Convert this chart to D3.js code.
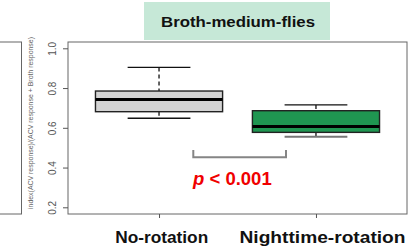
<!DOCTYPE html>
<html>
<head>
<meta charset="utf-8">
<script src="https://cdn.jsdelivr.net/npm/d3@7"></script>
<style>
  body { margin: 0; background: #fff; }
  svg { display: block; font-family: "Liberation Sans", Arial, sans-serif; }
</style>
</head>
<body>
<svg id="chart" width="414" height="247"></svg>
<script>
// data
var categories = ["No-rotation", "Nighttime-rotation"];
var whiskerLow  = [0.648, 0.555];
var q1          = [0.681, 0.577];
var medians     = [0.743, 0.606];
var q3          = [0.785, 0.686];
var whiskerHigh = [0.904, 0.715];
var boxFills    = ["#d3d3d3", "#1f9651"];
var yTicks      = [0.2, 0.4, 0.6, 0.8, 1.0];

var svg = d3.select('#chart');

// plot frame (R style, 4% padding round the data range)
var frame = { left: 68, right: 407, top: 42, bottom: 214 };

var x = d3.scaleLinear().domain([0.42, 2.58]).range([frame.left, frame.right]);
var y = d3.scaleLinear().domain([0.2, 1.0]).range([207.3, 48.3]);

// title strip
svg.append('rect')
  .attr('x', 144).attr('y', 2).attr('width', 186).attr('height', 38)
  .attr('fill', '#c6e8d7');
svg.append('text')
  .attr('x', 238).attr('y', 27)
  .attr('text-anchor', 'middle')
  .attr('font-size', 15.5).attr('font-weight', 'bold')
  .attr('textLength', 154).attr('lengthAdjust', 'spacingAndGlyphs')
  .attr('fill', '#111')
  .text('Broth-medium-flies');

// left neighbour panel (cut off)
svg.append('rect')
  .attr('x', -10).attr('y', frame.top).attr('width', 31.5).attr('height', frame.bottom - frame.top)
  .attr('fill', 'none').attr('stroke', '#666').attr('stroke-width', 1);

// frame
svg.append('rect')
  .attr('x', frame.left).attr('y', frame.top)
  .attr('width', frame.right - frame.left).attr('height', frame.bottom - frame.top)
  .attr('fill', 'none').attr('stroke', '#666').attr('stroke-width', 1);

// y axis
var yAxis = d3.axisLeft(y).tickValues(yTicks).tickSize(5).tickFormat(d3.format('.1f'));
var gy = svg.append('g').attr('transform', 'translate(' + frame.left + ',0)').call(yAxis);
gy.select('.domain').remove();
gy.selectAll('.tick line').attr('stroke', '#555');
gy.selectAll('.tick text')
  .attr('font-size', 10).attr('fill', '#555')
  .attr('font-family', '"Liberation Sans", Arial, sans-serif')
  .attr('x', null).attr('dy', null)
  .attr('text-anchor', 'middle')
  .attr('transform', 'translate(-12,0) rotate(-90)');

svg.append('text')
  .attr('transform', 'translate(33,123) rotate(-90)')
  .attr('text-anchor', 'middle')
  .attr('font-size', 6.5).attr('fill', '#666')
  .attr('textLength', 172).attr('lengthAdjust', 'spacingAndGlyphs')
  .text('index(ACV response)/(ACV response + Broth response)');

// x axis
var xAxis = d3.axisBottom(x).tickValues([1, 2]).tickSize(4).tickFormat('');
var gx = svg.append('g').attr('transform', 'translate(0,' + frame.bottom + ')').call(xAxis);
gx.select('.domain').remove();
gx.selectAll('.tick line').attr('stroke', '#555');

var labelLen = [93, 166];
categories.forEach(function (c, i) {
  svg.append('text')
    .attr('x', i === 0 ? 161.7 : 322.5).attr('y', 243)
    .attr('text-anchor', 'middle')
    .attr('font-size', 16).attr('font-weight', 'bold').attr('fill', '#111')
    .attr('textLength', labelLen[i]).attr('lengthAdjust', 'spacingAndGlyphs')
    .text(c);
});

// boxes
var boxHalf = 0.405, capHalf = 0.2;
categories.forEach(function (c, i) {
  var cx = x(i + 1);
  var g = svg.append('g');
  // whiskers
  g.append('line')
    .attr('x1', cx).attr('x2', cx).attr('y1', y(whiskerHigh[i])).attr('y2', y(q3[i]))
    .attr('stroke', '#111').attr('stroke-width', 1.3).attr('stroke-dasharray', '4,3');
  g.append('line')
    .attr('x1', cx).attr('x2', cx).attr('y1', y(q1[i])).attr('y2', y(whiskerLow[i]))
    .attr('stroke', '#111').attr('stroke-width', 1.3).attr('stroke-dasharray', '4,3');
  // caps
  g.append('line')
    .attr('x1', x(i + 1 - capHalf)).attr('x2', x(i + 1 + capHalf))
    .attr('y1', y(whiskerHigh[i])).attr('y2', y(whiskerHigh[i]))
    .attr('stroke', '#111').attr('stroke-width', 1.3);
  g.append('line')
    .attr('x1', x(i + 1 - capHalf)).attr('x2', x(i + 1 + capHalf))
    .attr('y1', y(whiskerLow[i])).attr('y2', y(whiskerLow[i]))
    .attr('stroke', i === 1 ? '#777' : '#111').attr('stroke-width', i === 1 ? 2 : 1.3);
  // box
  g.append('rect')
    .attr('x', x(i + 1 - boxHalf)).attr('y', y(q3[i]))
    .attr('width', x(i + 1 + boxHalf) - x(i + 1 - boxHalf))
    .attr('height', y(q1[i]) - y(q3[i]))
    .attr('fill', boxFills[i]).attr('stroke', '#222').attr('stroke-width', 1.4);
  // median
  g.append('line')
    .attr('x1', x(i + 1 - boxHalf)).attr('x2', x(i + 1 + boxHalf))
    .attr('y1', y(medians[i])).attr('y2', y(medians[i]))
    .attr('stroke', '#000').attr('stroke-width', 3);
});

// significance bracket
svg.append('path')
  .attr('d', 'M193.3,150 V157.3 H286 V150')
  .attr('fill', 'none').attr('stroke', '#858585').attr('stroke-width', 2);

var pText = svg.append('text')
  .attr('x', 193).attr('y', 185)
  .attr('font-size', 18.5).attr('font-weight', 'bold').attr('fill', '#f00000');
pText.append('tspan').attr('font-style', 'italic').text('p');
pText.append('tspan').text(' < 0.001');
</script>
</body>
</html>
